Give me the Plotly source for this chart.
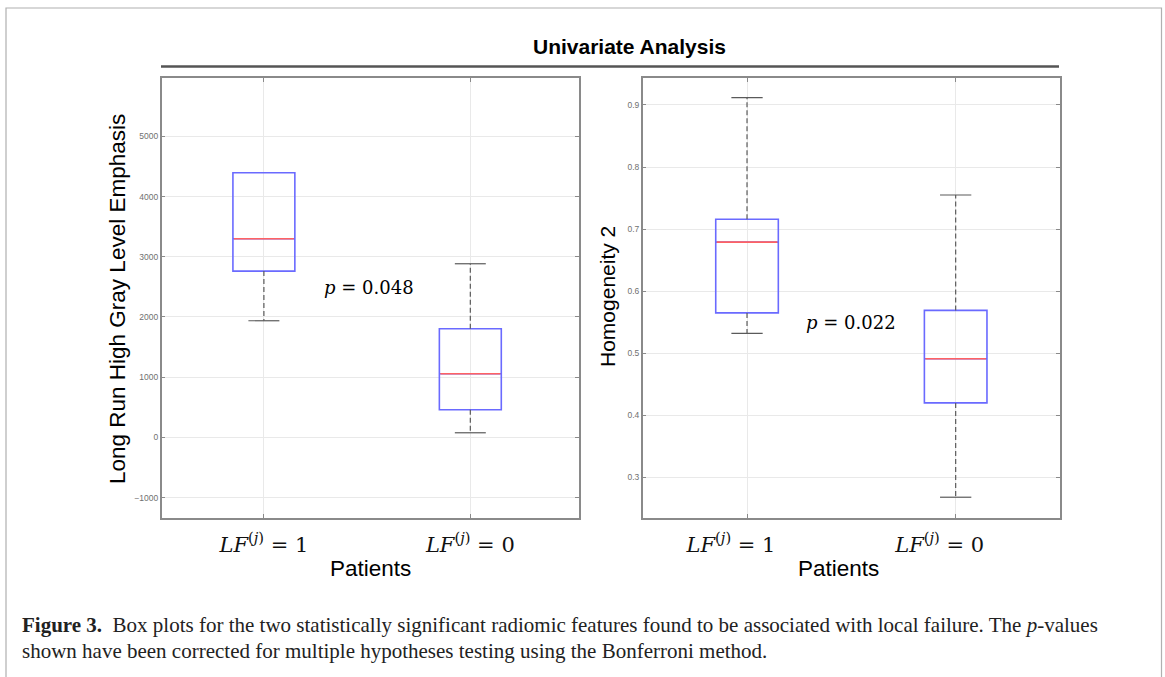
import plotly.graph_objects as go

W, H = 1165, 677

# ---------------- data ----------------
categories = ["LF1", "LF0"]
positions = [1, 2]
tick_labels = ["<i>LF</i><sup>(<i>j</i>)</sup> = 1", "<i>LF</i><sup>(<i>j</i>)</sup> = 0"]

# Long Run High Gray Level Emphasis
lrhgle_lower = [1937, 76]
lrhgle_q1 = [2762, 458]
lrhgle_median = [3299, 1056]
lrhgle_q3 = [4395, 1804]
lrhgle_upper = [4395, 2884]

# Homogeneity 2
homog_lower = [0.532, 0.268]
homog_q1 = [0.565, 0.420]
homog_median = [0.679, 0.491]
homog_q3 = [0.716, 0.569]
homog_upper = [0.912, 0.755]

left_yticks = [-1000, 0, 1000, 2000, 3000, 4000, 5000]
right_yticks = [0.3, 0.4, 0.5, 0.6, 0.7, 0.8, 0.9]

p_values = ["0.048", "0.022"]

# ---------------- styling ----------------
BOX_W = 0.3
CAP_HALF = 0.075
BLUE = "#6a6aff"
RED = "#ff6262"
WHISK = "#5a5a5a"
FRAME = "#8a8a8a"
GRID = "#e9e9e9"


def px(x):
    return x / W


def py(y):
    return 1 - y / H


fig = go.Figure()


def add_panel(xa, ya, lower, q1, med, q3, upper):
    # whiskers
    wx, wy = [], []
    for p, lo, a, b, up in zip(positions, lower, q1, q3, upper):
        wx += [p, p, None, p, p, None]
        wy += [b, up, None, a, lo, None]
    fig.add_trace(go.Scatter(x=wx, y=wy, mode="lines", xaxis=xa, yaxis=ya,
                             line=dict(color=WHISK, width=1.2, dash="5px,3px"),
                             hoverinfo="skip", showlegend=False))
    # caps
    cx, cy = [], []
    for p, lo, up, b in zip(positions, lower, upper, q3):
        cx += [p - CAP_HALF, p + CAP_HALF, None]
        cy += [lo, lo, None]
        if up > b:
            cx += [p - CAP_HALF, p + CAP_HALF, None]
            cy += [up, up, None]
    fig.add_trace(go.Scatter(x=cx, y=cy, mode="lines", xaxis=xa, yaxis=ya,
                             line=dict(color=WHISK, width=1.2),
                             hoverinfo="skip", showlegend=False))
    # boxes
    fig.add_trace(go.Box(x=positions, q1=q1, median=med, q3=q3,
                         lowerfence=q1, upperfence=q3, width=BOX_W,
                         xaxis=xa, yaxis=ya, line=dict(color=BLUE, width=1.6),
                         fillcolor="rgba(0,0,0,0)", whiskerwidth=0,
                         boxpoints=False, showlegend=False))
    # medians
    mx, my = [], []
    for p, m in zip(positions, med):
        mx += [p - BOX_W / 2 + 0.005, p + BOX_W / 2 - 0.005, None]
        my += [m, m, None]
    fig.add_trace(go.Scatter(x=mx, y=my, mode="lines", xaxis=xa, yaxis=ya,
                             line=dict(color=RED, width=1.6),
                             hoverinfo="skip", showlegend=False))


add_panel("x", "y", lrhgle_lower, lrhgle_q1, lrhgle_median, lrhgle_q3, lrhgle_upper)
add_panel("x2", "y2", homog_lower, homog_q1, homog_median, homog_q3, homog_upper)

y_dom = [py(517.7), py(78.3)]
common_x = dict(tickvals=positions, ticktext=tick_labels, showgrid=True, gridcolor=GRID,
                gridwidth=1, showline=True, linecolor=FRAME, linewidth=1.5, mirror="ticks",
                ticks="inside", ticklen=4, tickcolor=FRAME, zeroline=False,
                tickfont=dict(family="DejaVu Serif", size=21, color="#111"),
                ticklabelstandoff=7, automargin=False, fixedrange=True)
common_y = dict(showgrid=True, gridcolor=GRID, gridwidth=1, showline=True, linecolor=FRAME,
                linewidth=1.5, mirror="ticks", ticks="inside", ticklen=4, tickcolor=FRAME,
                zeroline=False, tickfont=dict(family="Liberation Sans", size=8.5, color="#707070"),
                automargin=False, fixedrange=True, domain=y_dom)

fig.update_layout(
    width=W, height=H, margin=dict(l=0, r=0, t=0, b=0, pad=0),
    paper_bgcolor="white", plot_bgcolor="white", template="none", showlegend=False,
    xaxis=dict(common_x, domain=[px(161.7), px(578.7)], range=[0.505, 2.525], anchor="y"),
    yaxis=dict(common_y, range=[-1335, 5965], tickvals=left_yticks, anchor="x"),
    xaxis2=dict(common_x, domain=[px(642.7), px(1060)], range=[0.5, 2.5], anchor="y2",
                ticklabelshift=-16),
    yaxis2=dict(common_y, range=[0.235, 0.943], tickvals=right_yticks, anchor="x2"),
)

ann = []


def add_text(x, y, text, size, family="Liberation Sans", angle=0, xanchor="center",
             color="black"):
    ann.append(dict(x=px(x), y=py(y), xref="paper", yref="paper", text=text,
                    showarrow=False, textangle=angle, xanchor=xanchor, yanchor="middle",
                    font=dict(family=family, size=size, color=color)))


add_text(629, 47, "<b>Univariate Analysis</b>", 21)
add_text(117, 299, "Long Run High Gray Level Emphasis", 22.5, angle=-90)
add_text(607, 297, "Homogeneity 2", 21, angle=-90)
add_text(370, 568, "Patients", 22.5)
add_text(838, 568, "Patients", 22.5)
add_text(369, 287, "<i>p</i> = " + p_values[0], 18, family="DejaVu Serif")
add_text(851, 322, "<i>p</i> = " + p_values[1], 18, family="DejaVu Serif")
add_text(20, 625, "<b>Figure 3.</b>  Box plots for the two statistically significant radiomic "
         "features found to be associated with local failure. The <i>p</i>-values",
         21, family="Liberation Serif", xanchor="left", color="#222")
add_text(20, 651, "shown have been corrected for multiple hypotheses testing using the "
         "Bonferroni method.", 21, family="Liberation Serif", xanchor="left", color="#222")
fig.update_layout(annotations=ann)

fig.update_layout(shapes=[
    dict(type="line", xref="paper", yref="paper", x0=px(161), x1=px(1059),
         y0=py(66.5), y1=py(66.5), line=dict(color="#555", width=2.5)),
    dict(type="rect", xref="paper", yref="paper", x0=px(6), x1=px(1161.5),
         y0=py(700), y1=py(8), line=dict(color="#b0b0b0", width=1.2)),
])

fig.write_html("out.html", config={"displayModeBar": False},
               post_script="document.body.style.margin='0';document.body.style.overflow='hidden';")
